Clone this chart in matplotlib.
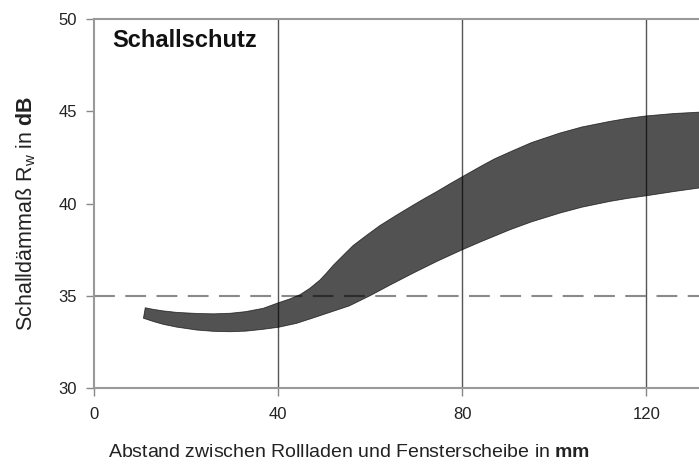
import matplotlib
matplotlib.use("Agg")
import matplotlib.pyplot as plt

plt.rcParams['font.family'] = ['Liberation Sans', 'DejaVu Sans']
plt.rcParams['mathtext.fontset'] = 'custom'
plt.rcParams['mathtext.rm'] = 'Liberation Sans'
plt.rcParams['mathtext.it'] = 'Liberation Sans:italic'
plt.rcParams['mathtext.bf'] = 'Liberation Sans:bold'

# Obere Grenze des Bandes (Abstand in mm, Rw in dB)
upper_x = [11.2, 13.0, 15.1, 18.0, 22.4, 26.0, 29.6, 33.0, 36.8, 40.1, 42.6, 44.8,
           46.9, 49.1, 50.6, 52.0, 54.2, 56.3, 59.2, 62.1, 65.8, 69.4, 72.0, 74.5,
           77.2, 80.0, 83.9, 87.0, 90.4, 95.0, 101.2, 106.0, 112.0, 116.0, 120.0,
           126.0, 132.0]
upper_y = [34.35, 34.26, 34.18, 34.10, 34.04, 34.02, 34.05, 34.14, 34.32, 34.62, 34.83, 35.06,
           35.40, 35.85, 36.25, 36.65, 37.20, 37.72, 38.27, 38.80, 39.38, 39.92, 40.30, 40.65,
           41.05, 41.45, 42.00, 42.42, 42.80, 43.30, 43.82, 44.15, 44.45, 44.62, 44.75,
           44.88, 44.96]
# Untere Grenze des Bandes
lower_x = [10.8, 13.0, 15.1, 18.0, 22.4, 26.0, 29.6, 33.0, 36.8, 40.1, 44.0, 47.7,
           51.3, 55.5, 60.0, 64.5, 69.4, 74.5, 80.0, 84.0, 90.4, 95.0, 101.2, 106.0,
           112.0, 116.0, 120.0, 126.0, 132.0]
lower_y = [33.78, 33.60, 33.45, 33.30, 33.14, 33.07, 33.05, 33.08, 33.18, 33.29, 33.50, 33.80,
           34.10, 34.45, 35.00, 35.60, 36.23, 36.86, 37.49, 37.92, 38.58, 39.00, 39.48, 39.80,
           40.11, 40.28, 40.42, 40.65, 40.86]

x_ticks = [0, 40, 80, 120]
y_ticks = [30, 35, 40, 45, 50]
reference_level = 35

fig = plt.figure(figsize=(6.99, 4.70), dpi=100)
ax = fig.add_axes([0.134, 0.1745, 0.866, 0.785])

for xv in x_ticks[1:]:
    ax.axvline(xv, color='#555555', lw=1.0, zorder=1)
ax.axhline(reference_level, color='#8a8a8a', lw=1.5, dashes=(10, 5), zorder=1)

# Band als Polygon: obere Kurve vorwaerts, untere rueckwaerts
poly_x = upper_x + lower_x[::-1]
poly_y = upper_y + lower_y[::-1]
ax.fill(poly_x, poly_y, color='black', alpha=0.68, lw=0.6, joinstyle='round', zorder=2)

ax.set_xlim(0, 131.4)
ax.set_ylim(30, 50)
ax.set_xticks(x_ticks)
ax.set_yticks(y_ticks)
ax.spines['right'].set_visible(False)
for s in ['left', 'top', 'bottom']:
    ax.spines[s].set_color('#999999')
    ax.spines[s].set_linewidth(1.5)
ax.tick_params(direction='out', length=6, width=1.0, color='#888888',
               labelsize=12, labelcolor='#222222')
ax.tick_params(axis='x', pad=8)
ax.tick_params(axis='y', pad=6)

ax.text(0.030, 0.972, 'Schallschutz', transform=ax.transAxes, fontsize=17,
        fontweight='bold', va='top', ha='left', color='#111111')

fig.text(0.5, 0.028, r'Abstand zwischen Rollladen und Fensterscheibe in $\mathbf{mm}$',
         ha='center', va='baseline', fontsize=14, color='#222222')
fig.text(0.037, 0.546, r'Schalldämmaß R$_\mathrm{w}$ in $\mathbf{dB}$',
         ha='center', va='center', rotation=90, fontsize=15.5, color='#222222')

fig.savefig('out.png', dpi=100)
